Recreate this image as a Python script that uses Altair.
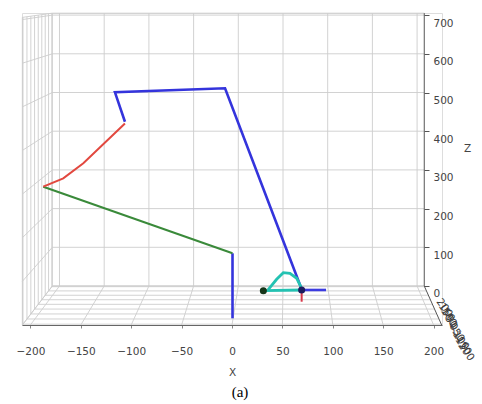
import altair as alt
import pandas as pd

# ---------------- axis ticks ----------------
X_TICKS = [-200, -150, -100, -50, 0, 50, 100, 150, 200]
Z_TICKS = [0, 100, 200, 300, 400, 500, 600, 700]
Y_TICKS = [-200, -150, -100, -50, 0, 50, 100, 150, 200]

# ---------------- data (projected x / z) ----------------
trunk_x = [0.5, 0.5]
trunk_z = [84.5, -83.5]
green_x = [0.5, -187.2]
green_z = [84.5, 256.6]
red_x = [-187.2, -167.4, -147.5, -106.2]
red_z = [256.6, 278.3, 317.1, 419.9]
blue_x = [-106.2, -116.1, -6.9, 69.1]
blue_z = [424.5, 500.5, 510.9, -8.5]
foot_x = [67.5, 93.3]
foot_z = [-10.3, -10.3]
redfoot_x = [69.1, 69.1]
redfoot_z = [-10.3, -40.6]
cyan_x = [31.1, 69.1]
cyan_z = [-12.1, -10.3]
arc_x = [35.7, 44.3, 50.9, 57.5, 64.2, 69.1]
arc_z = [-10.3, 17.3, 34.4, 32.8, 19.9, -5.9]
dot_x = [31.1, 69.1]
dot_z = [-12.1, -10.3]
dot_color = ["#16361a", "#1c1c5e"]

# ---------------- 3D box projection (decoration) ----------------
XMIN, XMAX = -208.0, 208.0
YMIN, YMAX = -208.0, 208.0
ZMIN, ZMAX = 0.0, 705.0
BX0, BXS = 238.3, 0.894
BZ0, BZS = 286.0, 0.387
VX, VY = 287.7, -19.9
K = 0.1131
FX0, FXS = 232.0, 1.008


def proj(x, y, z):
    t = (YMAX - y) / (YMAX - YMIN)
    s = 1.0 / (1.0 - K * t)
    px = VX + (BX0 + BXS * x - VX) * s
    py = VY + (BZ0 - BZS * z - VY) * s
    return (px - FX0) / FXS, (BZ0 - py) / BZS


segs = []


def seg(p, q, kind="grid"):
    a = proj(*p)
    b = proj(*q)
    segs.append({"x": a[0], "z": a[1], "x2": b[0], "z2": b[1], "kind": kind})


for x in X_TICKS:
    seg((x, YMAX, ZMIN), (x, YMAX, ZMAX))
    seg((x, YMIN, ZMIN), (x, YMAX, ZMIN))
for z in Z_TICKS:
    seg((XMIN, YMAX, z), (XMAX, YMAX, z))
    seg((XMIN, YMIN, z), (XMIN, YMAX, z))
for y in Y_TICKS:
    seg((XMIN, y, ZMIN), (XMAX, y, ZMIN))
    seg((XMIN, y, ZMIN), (XMIN, y, ZMAX))
# pane edges
seg((XMIN, YMAX, ZMIN), (XMIN, YMAX, ZMAX))
seg((XMIN, YMIN, ZMIN), (XMIN, YMIN, ZMAX))
seg((XMIN, YMAX, ZMAX), (XMAX, YMAX, ZMAX))
seg((XMIN, YMIN, ZMAX), (XMIN, YMAX, ZMAX))
seg((XMIN, YMAX, ZMIN), (XMAX, YMAX, ZMIN))
seg((XMIN, YMIN, ZMIN), (XMIN, YMAX, ZMIN))
# axis edges
seg((XMAX, YMAX, ZMIN), (XMAX, YMAX, ZMAX), "axis")
seg((XMAX, YMAX, ZMIN), (XMAX, YMIN, ZMIN), "axis")

seg_df = pd.DataFrame(segs)

# y-axis tick labels, offset outward from the right floor edge (crowded, as in the original)
ylab = []
for y in Y_TICKS:
    px, pz = proj(XMAX + 22, y, ZMIN - 55)
    ylab.append({"x": px, "z": pz, "t": str(y).replace("-", "\u2212")})
ylab_df = pd.DataFrame(ylab)

# ---------------- scales / axes ----------------
XS = alt.Scale(domain=[-208.33, 208.33], nice=False, zero=False)
ZS = alt.Scale(domain=[-100.78, 705.43], nice=False, zero=False)
FONT = "DejaVu Sans"
XAX = alt.Axis(values=X_TICKS, grid=False, title="X", labelFont=FONT, labelFontSize=10.5,
               labelColor="#444444", tickSize=3, tickColor="#888888", domainColor="#666666",
               labelPadding=18, titleFont=FONT, titleFontSize=10.5, titleFontWeight="normal",
               titleColor="#444444", titlePadding=11, labelFlush=False)
ZAX = alt.Axis(values=Z_TICKS, grid=False, orient="right", offset=-18, domain=False,
               title="Z", titleAngle=0, titleX=43, titleY=135, titleAlign="center",
               titleBaseline="middle", labelFont=FONT, labelFontSize=10.5, labelColor="#444444",
               tickSize=5, tickColor="#555555", labelPadding=4, labelOffset=8,
               titleFont=FONT, titleFontSize=10.5, titleFontWeight="normal", titleColor="#444444")


def X(f):
    return alt.X(f, type="quantitative", scale=XS, axis=XAX)


def Z(f):
    return alt.Y(f, type="quantitative", scale=ZS, axis=ZAX)


grid = alt.Chart(seg_df).transform_filter(alt.datum.kind == "grid").mark_rule(
    color="#cdcdcd", strokeWidth=0.9
).encode(x=X("x"), y=Z("z"), x2="x2", y2="z2")
axes = alt.Chart(seg_df).transform_filter(alt.datum.kind == "axis").mark_rule(
    color="#555555", strokeWidth=1
).encode(x=X("x"), y=Z("z"), x2="x2", y2="z2")

ylabels = alt.Chart(ylab_df).mark_text(
    font=FONT, fontSize=10.5, color="#3a3a3a", angle=55, align="center",
    baseline="middle"
).encode(x=X("x"), y=Z("z"), text="t:N")


def line(xs, zs, color, width):
    df = pd.DataFrame({"x": xs, "z": zs, "i": list(range(len(xs)))})
    return alt.Chart(df).mark_line(color=color, strokeWidth=width).encode(
        x=X("x"), y=Z("z"), order="i:Q")


layers = [
    grid, axes, ylabels,
    line(trunk_x, trunk_z, "#3434dc", 2.6),
    line(green_x, green_z, "#3a8a3a", 2.0),
    line(red_x, red_z, "#e2483f", 2.0),
    line(blue_x, blue_z, "#3434dc", 2.6),
    line(redfoot_x, redfoot_z, "#d8384a", 2.0),
    line(cyan_x, cyan_z, "#24c2b2", 2.8),
    line(arc_x, arc_z, "#24c2b2", 2.8),
    line(foot_x, foot_z, "#3c3ce0", 2.6),
]
dots = alt.Chart(pd.DataFrame({"x": dot_x, "z": dot_z, "c": dot_color})).mark_circle(
    size=50, opacity=1
).encode(x=X("x"), y=Z("z"), color=alt.Color("c:N", scale=None))
layers.append(dots)

chart = alt.layer(*layers).properties(
    width=420, height=312,
    padding={"left": 22, "top": 13, "right": 40, "bottom": 79},
    autosize=alt.AutoSizeParams(type="none"),
    title=alt.TitleParams("(a)", orient="bottom", font="Liberation Serif", fontSize=15,
                          fontWeight="normal", color="#000000", offset=7, dx=8),
).configure_view(stroke=None).configure(background="white")

chart.save("out.html", embed_options={"renderer": "svg", "actions": False})
